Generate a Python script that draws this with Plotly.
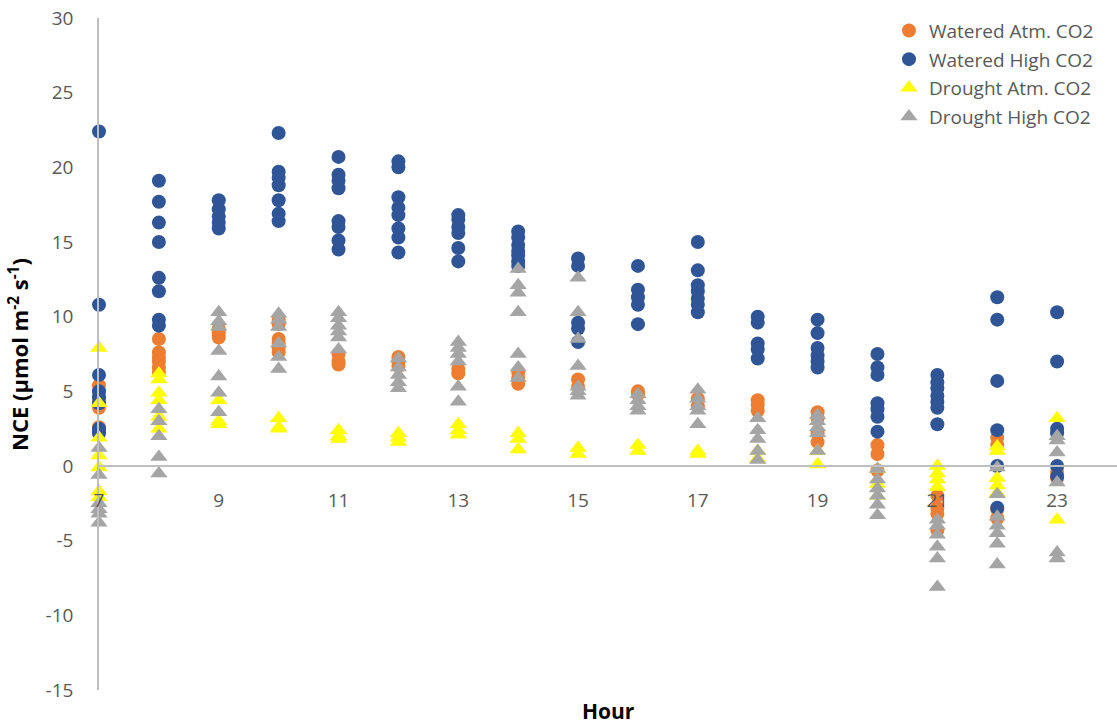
import plotly.graph_objects as go

# Hour of day (one column of readings per hour)
HOURS = list(range(7, 24))

# Net carbon exchange readings (µmol m-2 s-1), grouped by hour 7..23
watered_atm = [
    [5.4, 5.0, 4.5, 3.9, 2.6, 2.3],
    [8.5, 7.6, 7.3, 7.0, 6.6, 6.3],
    [9.2, 8.9, 8.6],
    [9.8, 9.5, 8.5, 8.2, 7.9, 7.6],
    [7.5, 7.0, 6.8],
    [7.3, 7.0, 6.7],
    [6.5, 6.2],
    [6.3, 5.9, 5.5],
    [5.8, 5.3],
    [5.0, 4.8],
    [4.5, 4.0],
    [4.4, 4.1, 3.7],
    [3.6, 3.2, 2.2, 1.6],
    [1.4, 0.8, -0.3],
    [-2.0, -2.8, -3.2, -4.3],
    [1.9, 1.4, -2.9, -3.5],
    [-0.4, -0.8],
]

watered_high = [
    [22.4, 10.8, 6.1, 5.0, 4.6, 4.2, 2.5, 2.2],
    [19.1, 17.7, 16.3, 15.0, 12.6, 11.7, 9.8, 9.4],
    [17.8, 17.2, 16.7, 16.3, 15.9],
    [22.3, 19.7, 19.3, 18.8, 17.8, 16.9, 16.4],
    [20.7, 19.5, 19.1, 18.6, 16.4, 16.0, 15.1, 14.5],
    [20.4, 20.0, 18.0, 17.3, 16.8, 15.9, 15.3, 14.3],
    [16.8, 16.5, 16.0, 15.6, 14.6, 13.7],
    [15.7, 15.3, 14.8, 14.4, 14.1, 13.7, 13.4],
    [13.9, 13.4, 9.6, 9.2, 8.3],
    [13.4, 11.8, 11.3, 10.8, 9.5],
    [15.0, 13.1, 12.1, 11.7, 11.2, 10.8, 10.3],
    [10.0, 9.6, 8.2, 7.8, 7.2],
    [9.8, 8.9, 7.9, 7.4, 7.0, 6.6],
    [7.5, 6.6, 6.1, 4.2, 3.8, 3.3, 2.3],
    [6.1, 5.6, 5.2, 4.7, 4.3, 3.9, 2.8],
    [11.3, 9.8, 5.7, 2.4, 0.0, -2.8],
    [10.3, 7.0, 2.5, 2.2, 0.0, -0.7],
]

drought_atm = [
    [7.9, 4.2, 1.9, 0.7, -0.1, -1.7, -2.1],
    [6.2, 5.8, 4.9, 4.4, 3.3, 2.5],
    [4.4, 3.0, 2.8],
    [3.2, 2.6, 2.5],
    [2.4, 2.0, 1.8],
    [2.2, 1.9, 1.6],
    [2.8, 2.4, 2.1],
    [2.2, 1.8, 1.1],
    [1.2, 0.8],
    [1.4, 1.0],
    [1.0, 0.8],
    [1.0, 0.5],
    [1.0, 0.1],
    [-0.2, -1.2, -2.0],
    [0.0, -0.5, -0.9, -1.4],
    [1.3, 1.0, -0.8, -1.3, -1.8],
    [3.2, -3.6],
]

drought_high = [
    [1.2, -0.6, -2.5, -2.9, -3.2, -3.8],
    [3.8, 3.0, 2.0, 0.6, -0.5],
    [10.3, 9.7, 9.3, 7.7, 6.0, 4.9, 3.6],
    [10.2, 9.8, 9.3, 8.2, 7.3, 6.5],
    [10.3, 9.9, 9.4, 9.0, 8.6, 7.8],
    [7.2, 6.6, 6.1, 5.6, 5.2],
    [8.3, 7.9, 7.5, 7.0, 5.3, 4.3],
    [13.2, 12.1, 11.6, 10.3, 7.5, 6.6, 5.9],
    [12.6, 10.3, 8.5, 6.7, 5.3, 5.0, 4.7],
    [4.8, 4.4, 4.0, 3.7],
    [5.1, 4.5, 4.0, 3.7, 2.8],
    [3.2, 2.4, 1.8, 1.0, 0.4],
    [3.4, 3.0, 2.6, 2.2, 1.0],
    [-0.2, -0.9, -1.5, -2.0, -2.6, -3.3],
    [-3.6, -4.0, -4.6, -5.4, -6.2, -8.1],
    [-0.1, -1.9, -3.4, -4.0, -4.5, -5.2, -6.6],
    [2.0, 1.7, 0.9, -1.1, -5.8, -6.2],
]

# Axis ticks (plain hyphen for negatives)
X_TICKS = [7, 9, 11, 13, 15, 17, 19, 21, 23]
Y_TICKS = [-15, -10, -5, 0, 5, 10, 15, 20, 25, 30]

SERIES = [
    ("Watered Atm. CO2", watered_atm, "#ED7D31", "circle", 14),
    ("Watered High CO2", watered_high, "#2F5597", "circle", 14),
    ("Drought Atm. CO2", drought_atm, "#FFFF00", "triangle-up", 15),
    ("Drought High CO2", drought_high, "#A5A5A5", "triangle-up", 15),
]

TEXT_GREY = "#595959"
AXIS_GREY = "#BFBFBF"
FONT = "Open Sans"


def flatten(groups):
    xs, ys = [], []
    for hour, vals in zip(HOURS, groups):
        for v in vals:
            xs.append(hour)
            ys.append(v)
    return xs, ys


fig = go.Figure()
for i, (name, groups, color, symbol, size) in enumerate(SERIES):
    xs, ys = flatten(groups)
    fig.add_trace(go.Scatter(
        x=xs, y=ys, mode="markers", name=name, legendgroup=f"g{i}",
        cliponaxis=False,
        marker=dict(color=color, symbol=symbol, size=size, line=dict(width=0)),
    ))

fig.update_layout(
    width=1117, height=727,
    margin=dict(l=99, r=0, t=18, b=37),
    paper_bgcolor="white", plot_bgcolor="white",
    font=dict(family=FONT, size=19, color=TEXT_GREY),
    showlegend=True,
    legend=dict(
        x=0.776, y=1.0095, xanchor="left", yanchor="top",
        bgcolor="rgba(0,0,0,0)", traceorder="grouped", tracegroupgap=1,
        itemwidth=30,
        font=dict(family=FONT, size=19, color=TEXT_GREY),
    ),
    xaxis=dict(
        range=[7, 24], tickmode="array", tickvals=X_TICKS,
        ticktext=[str(t) for t in X_TICKS],
        showgrid=False, zeroline=False,
        showline=True, linecolor=AXIS_GREY, linewidth=1.5,
        anchor="free", position=1 / 3, ticks="", ticklabelstandoff=17,
        tickfont=dict(family=FONT, size=19, color=TEXT_GREY),
    ),
    yaxis=dict(
        range=[-15, 30], tickmode="array", tickvals=Y_TICKS,
        ticktext=[str(t) for t in Y_TICKS],
        showgrid=False, zeroline=False,
        showline=True, linecolor=AXIS_GREY, linewidth=1.5, ticks="",
        ticklabelstandoff=20,
        tickfont=dict(family=FONT, size=19, color=TEXT_GREY),
    ),
    annotations=[
        dict(text="<b>Hour</b>", xref="paper", yref="paper", x=0.5, y=-0.031,
             xanchor="center", yanchor="middle", showarrow=False,
             font=dict(family=FONT, size=21, color="black")),
        dict(text="<b>NCE (μmol m<sup>-2</sup> s<sup>-1</sup>)</b>",
             xref="paper", yref="paper", x=-0.0796, y=0.5,
             xanchor="center", yanchor="middle", textangle=-90, showarrow=False,
             font=dict(family=FONT, size=22, color="black")),
    ],
)

fig.write_html("out.html")
